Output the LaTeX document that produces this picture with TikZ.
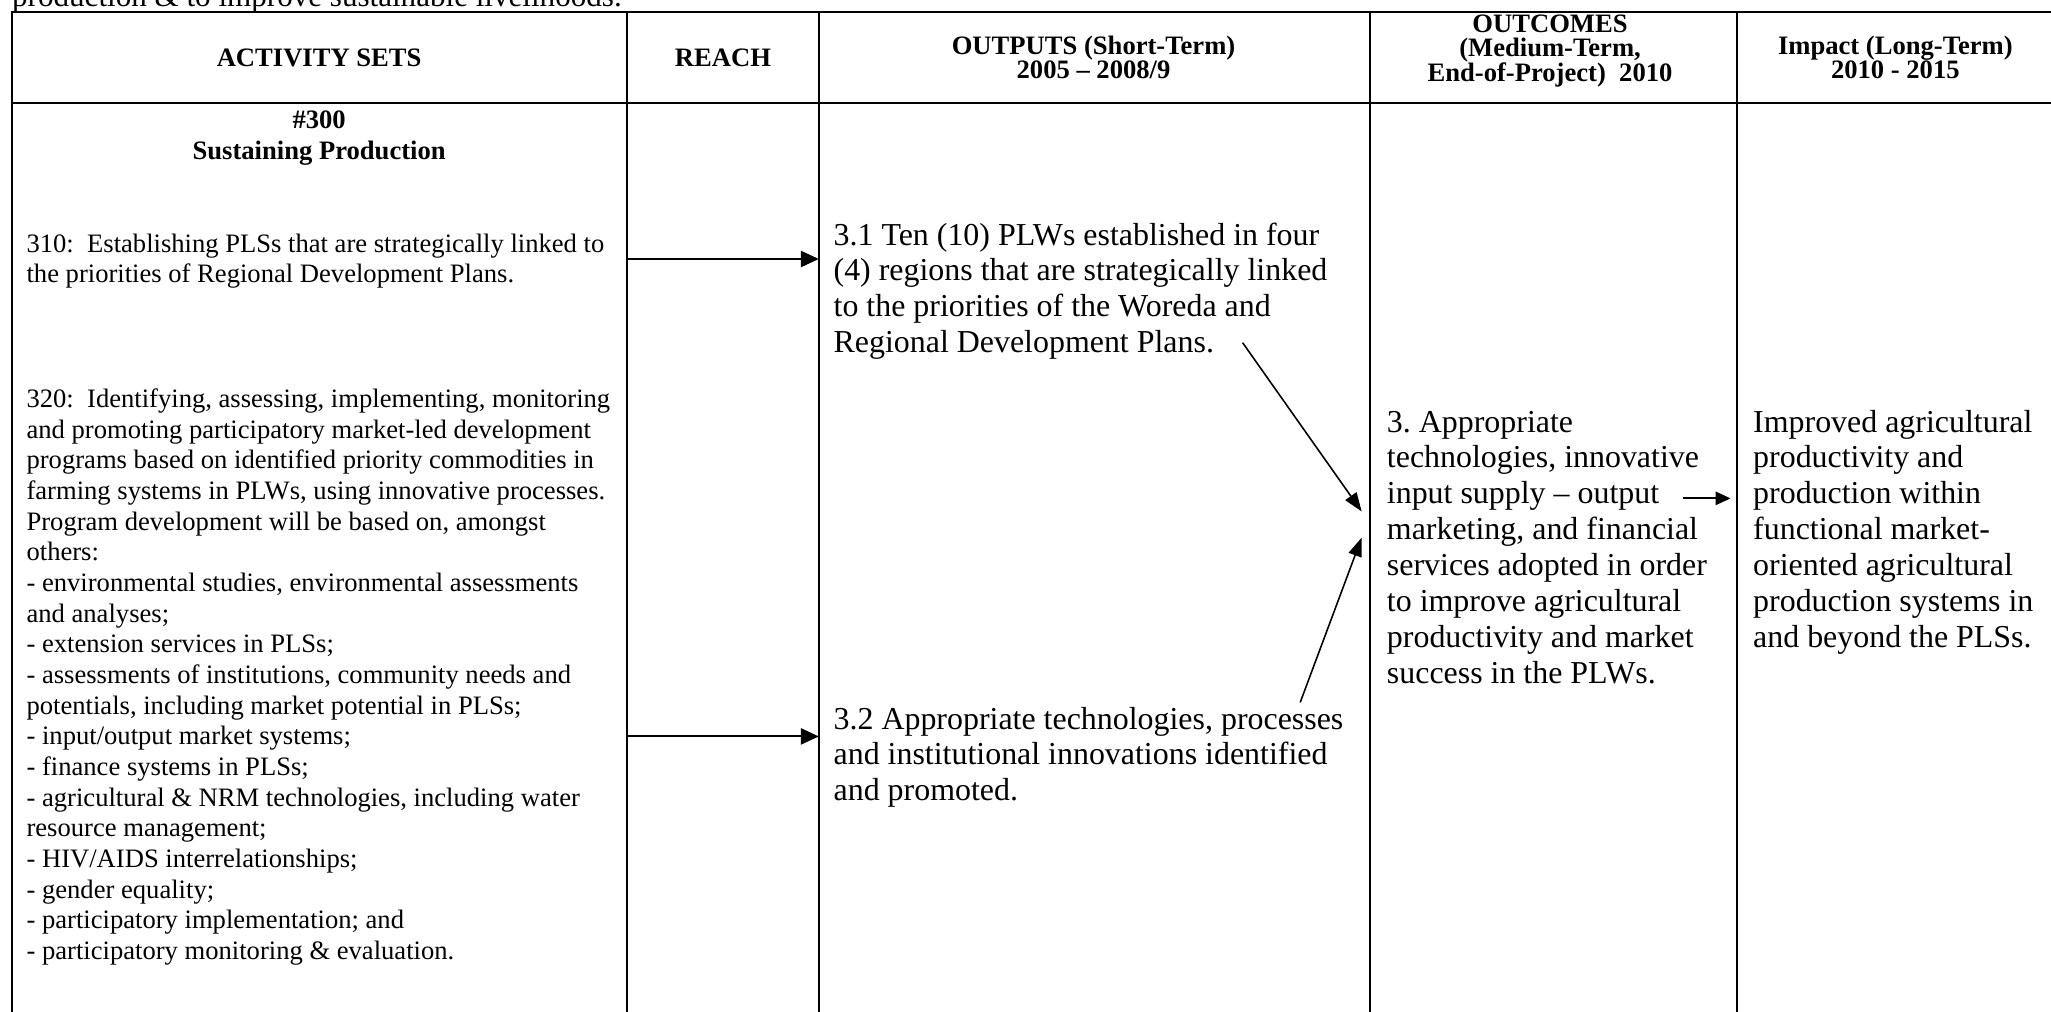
\documentclass[tikz,border=0pt]{standalone}
\usepackage{fontspec}
\setmainfont{Liberation Serif}
\usetikzlibrary{arrows.meta}
\newcommand{\tightlsk}{\lineskiplimit=-50pt\relax}
\begin{document}
\begin{tikzpicture}[x=0.627pt,y=-0.627pt,
  hdr/.style={font=\fontsize{12.75}{11.7}\selectfont\bfseries\tightlsk, align=center, inner sep=0pt, anchor=center},
  smalltxt/.style={font=\fontsize{12.75}{14.7}\selectfont, align=left, inner sep=0pt, anchor=north west},
  bigtxt/.style={font=\fontsize{15.3}{17.2}\selectfont, align=left, inner sep=0pt, anchor=north west},
  gridline/.style={line width=1pt, line cap=rect},
  harrow/.style={line width=1pt, -{Triangle[length=8.6pt,width=7.7pt]}},
  darrow/.style={line width=0.75pt, -{Triangle[length=9pt,width=6.5pt]}},
  sarrow/.style={line width=0.9pt, -{Triangle[length=7.2pt,width=6.4pt]}},
]
\frenchspacing
\useasboundingbox (0,0) rectangle (1568,773);

% clipped caption line above the table
\node[font=\fontsize{14.9}{17}\selectfont, align=left, inner sep=0pt, anchor=base west] (caption) at (9,5) {production \& to improve sustainable livelihoods.};

% table grid
\draw[gridline] (9,9) -- (1575,9);
\draw[gridline] (9,79) -- (1575,79);
\draw[gridline] (9,9) -- (9,780);
\draw[gridline] (479.4,9) -- (479.4,780);
\draw[gridline] (626,9) -- (626,780);
\draw[gridline] (1047.4,9) -- (1047.4,780);
\draw[gridline] (1328,9) -- (1328,780);

% header
\node[hdr] (hact) at (244,44) {ACTIVITY SETS};
\node[hdr] (hreach) at (552.7,44) {REACH};
\node[hdr] (hout) at (836,44) {OUTPUTS (Short-Term)\\2005 – 2008/9};
\node[hdr] (hoc) at (1185,39) {OUTCOMES\\(Medium-Term,\\End-of-Project)\ \ 2010};
\node[hdr] (himp) at (1449,44) {Impact (Long-Term)\\2010 - 2015};

% activity column
\node[font=\fontsize{12.75}{14.64}\selectfont\bfseries, align=center, inner sep=0pt] (a300) at (244,105.5) {\#300\\Sustaining Production};
\node[smalltxt] (a310) at (20,176) {\strut 310:\ \ Establishing PLSs that are strategically linked to\\the priorities of Regional Development Plans.};
\node[smalltxt] (a320) at (20,294.7) {\strut 320:\ \ Identifying, assessing, implementing, monitoring\\and promoting participatory market-led development\\programs based on identified priority commodities in\\farming systems in PLWs, using innovative processes.\\Program development will be based on, amongst\\others:\\- environmental studies, environmental assessments\\and analyses;\\- extension services in PLSs;\\- assessments of institutions, community needs and\\potentials, including market potential in PLSs;\\- input/output market systems;\\- finance systems in PLSs;\\- agricultural \& NRM technologies, including water\\resource management;\\- HIV/AIDS interrelationships;\\- gender equality;\\- participatory implementation; and\\- participatory monitoring \& evaluation.};

% outputs
\node[bigtxt] (o31) at (637,167.8) {\strut 3.1 Ten (10) PLWs established in four\\(4) regions that are strategically linked\\to the priorities of the Woreda and\\Regional Development Plans.};
\node[bigtxt] (o32) at (637,537.8) {\strut 3.2 Appropriate technologies, processes\\and institutional innovations identified\\and promoted.};

% outcome
\node[bigtxt] (oc) at (1060,310.8) {\strut 3. Appropriate\\technologies, innovative\\input supply – output\\marketing, and financial\\services adopted in order\\to improve agricultural\\productivity and market\\success in the PLWs.};

% impact
\node[bigtxt] (imp) at (1340,310.8) {\strut Improved agricultural\\productivity and\\production within\\functional market-\\oriented agricultural\\production systems in\\and beyond the PLSs.};

% connector end points
\coordinate (r310) at (479.4,198);
\coordinate (r320) at (479.4,563);
\coordinate (in31) at (626,198);
\coordinate (in32) at (626,563);
\coordinate (d1s) at (950,262);
\coordinate (d1e) at (1041,391);
\coordinate (d2s) at (994,537);
\coordinate (d2e) at (1041,411);
\coordinate (ocout) at (1287,381);
\coordinate (impin) at (1323,381);

\draw[harrow] (r310) -- (in31);
\draw[harrow] (r320) -- (in32);
\draw[darrow] (d1s) -- (d1e);
\draw[darrow] (d2s) -- (d2e);
\draw[sarrow] (ocout) -- (impin);
\end{tikzpicture}
\end{document}
